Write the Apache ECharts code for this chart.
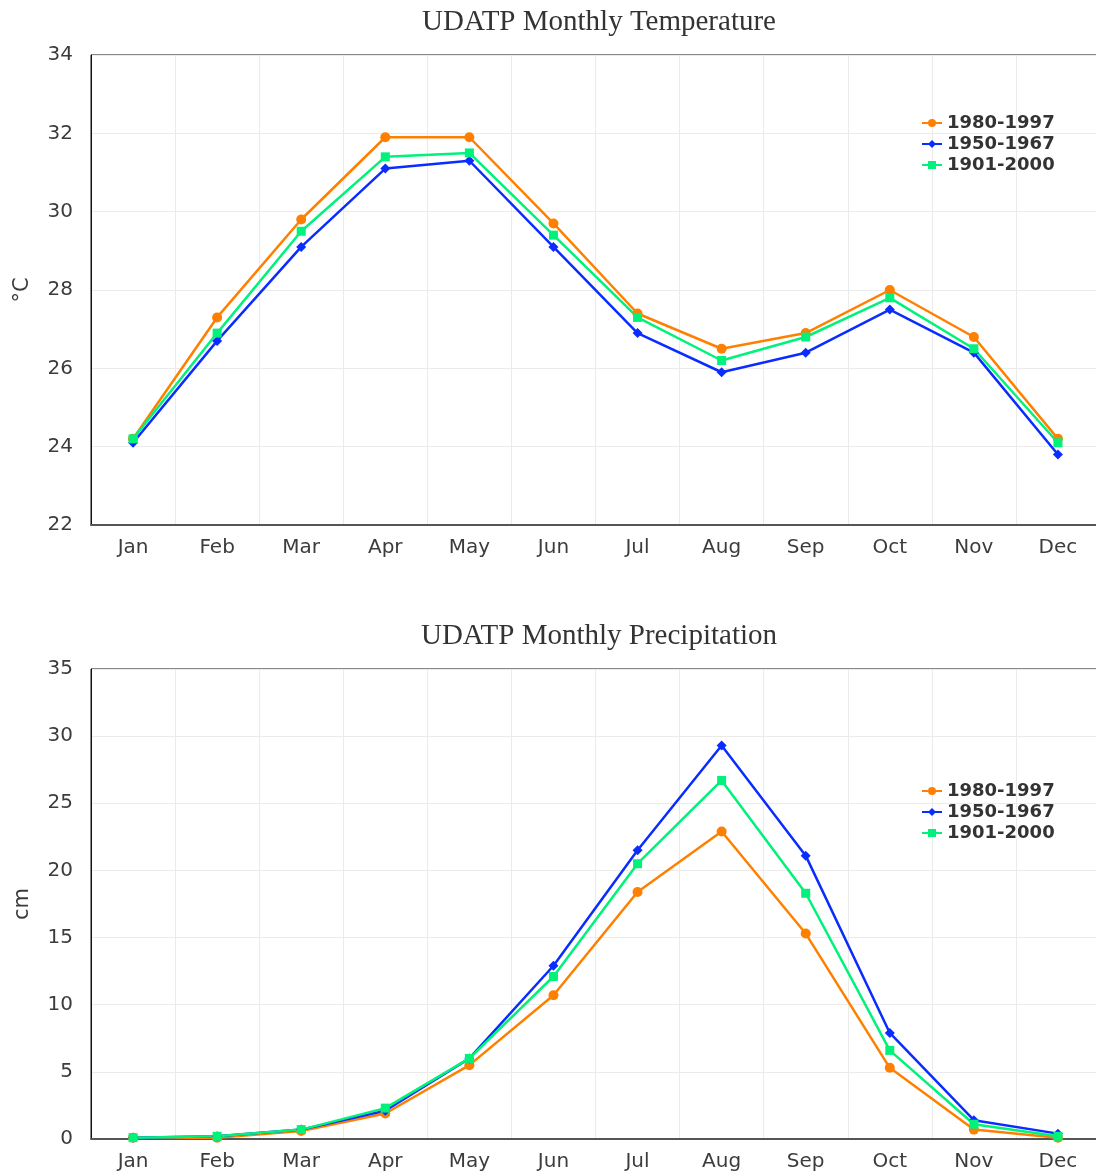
<!DOCTYPE html>
<html>
<head>
<meta charset="utf-8">
<script src="https://cdn.jsdelivr.net/npm/echarts@6/dist/echarts.min.js"></script>
<style>
html,body{margin:0;padding:0;background:#fff;}
#chart{width:1096px;height:1173px;}
</style>
</head>
<body>
<div id="chart"></div>
<script>
const months = ['Jan','Feb','Mar','Apr','May','Jun','Jul','Aug','Sep','Oct','Nov','Dec'];
const seriesNames = ['1980-1997','1950-1967','1901-2000'];

const temp1980 = [24.2, 27.3, 29.8, 31.9, 31.9, 29.7, 27.4, 26.5, 26.9, 28.0, 26.8, 24.2];
const temp1950 = [24.1, 26.7, 29.1, 31.1, 31.3, 29.1, 26.9, 25.9, 26.4, 27.5, 26.4, 23.8];
const temp1901 = [24.2, 26.9, 29.5, 31.4, 31.5, 29.4, 27.3, 26.2, 26.8, 27.8, 26.5, 24.1];

const prec1980 = [0.1, 0.1, 0.6, 1.9, 5.5, 10.7, 18.4, 22.9, 15.3, 5.3, 0.7, 0.1];
const prec1950 = [0.1, 0.2, 0.7, 2.1, 6.0, 12.9, 21.5, 29.3, 21.1, 7.9, 1.4, 0.4];
const prec1901 = [0.1, 0.2, 0.7, 2.3, 6.0, 12.1, 20.5, 26.7, 18.3, 6.6, 1.1, 0.2];

const tempTicks = {min: 22, max: 34, interval: 2};
const precTicks = {min: 0, max: 35, interval: 5};

const colors = ['#ff8000', '#0a2cff', '#00f27a'];
const symbols = ['circle', 'diamond', 'rect'];
const symbolSizes = [10, 10, 9];

const chart = echarts.init(document.getElementById('chart'), null, {renderer: 'canvas'});

const axisFont = {fontFamily: '"DejaVu Sans", sans-serif', fontSize: 20, color: '#3c3c3c'};

function xAxisFor(idx) {
  return {
    type: 'category', gridIndex: idx, data: months, boundaryGap: true,
    axisLine: {show: true, lineStyle: {color: '#555', width: 2}},
    axisTick: {show: false},
    axisLabel: Object.assign({margin: 13}, axisFont),
    splitLine: {show: true, lineStyle: {color: '#ebebeb', width: 1}}
  };
}
function yAxisFor(idx, t, name) {
  return {
    type: 'value', gridIndex: idx, min: t.min, max: t.max, interval: t.interval,
    name: name, nameLocation: 'middle', nameGap: 58, nameRotate: 90,
    nameTextStyle: {fontFamily: '"DejaVu Sans", sans-serif', fontSize: 21, color: '#3c3c3c'},
    axisLine: {show: true, lineStyle: {color: '#111', width: 1}},
    axisTick: {show: false},
    axisLabel: Object.assign({margin: 18, padding: [5, 0, 0, 0]}, axisFont),
    splitLine: {show: true, lineStyle: {color: '#ebebeb', width: 1}}
  };
}
function lineSeries(name, data, i, idx) {
  return {
    name: name, type: 'line', data: data, xAxisIndex: idx, yAxisIndex: idx,
    symbol: symbols[i], symbolSize: symbolSizes[i], showAllSymbol: true,
    lineStyle: {color: colors[i], width: 2.5},
    itemStyle: {color: colors[i]},
    animation: false
  };
}

const legendText = {fontFamily: '"DejaVu Sans", sans-serif', fontWeight: 'bold', fontSize: 18, color: '#333'};
const titleText = {fontFamily: '"Liberation Serif", "Times New Roman", serif', fontWeight: 'normal', fontSize: 29, color: '#333'};

chart.setOption({
  backgroundColor: '#fff',
  animation: false,
  title: [
    {text: 'UDATP Monthly Temperature', left: 594, top: 3, textAlign: 'center', textStyle: titleText},
    {text: 'UDATP Monthly Precipitation', left: 594, top: 617, textAlign: 'center', textStyle: titleText}
  ],
  legend: [
    {orient: 'vertical', left: 916, top: 109, itemWidth: 20, itemHeight: 10, itemGap: 3,
     data: seriesNames, textStyle: legendText, selectedMode: false},
    {orient: 'vertical', left: 916, top: 777, itemWidth: 20, itemHeight: 10, itemGap: 3,
     data: seriesNames, textStyle: legendText, selectedMode: false}
  ],
  grid: [
    {left: 91, top: 55, width: 1009, height: 470, show: true, borderColor: '#111', borderWidth: 1,
     backgroundColor: 'transparent', outerBoundsMode: 'none', containLabel: false},
    {left: 91, top: 669, width: 1009, height: 470, show: true, borderColor: '#111', borderWidth: 1,
     backgroundColor: 'transparent', outerBoundsMode: 'none', containLabel: false}
  ],
  xAxis: [xAxisFor(0), xAxisFor(1)],
  yAxis: [yAxisFor(0, tempTicks, '°C'), yAxisFor(1, precTicks, 'cm')],
  series: [
    lineSeries(seriesNames[0], temp1980, 0, 0),
    lineSeries(seriesNames[1], temp1950, 1, 0),
    lineSeries(seriesNames[2], temp1901, 2, 0),
    lineSeries(seriesNames[0], prec1980, 0, 1),
    lineSeries(seriesNames[1], prec1950, 1, 1),
    lineSeries(seriesNames[2], prec1901, 2, 1)
  ]
});
</script>
</body>
</html>
